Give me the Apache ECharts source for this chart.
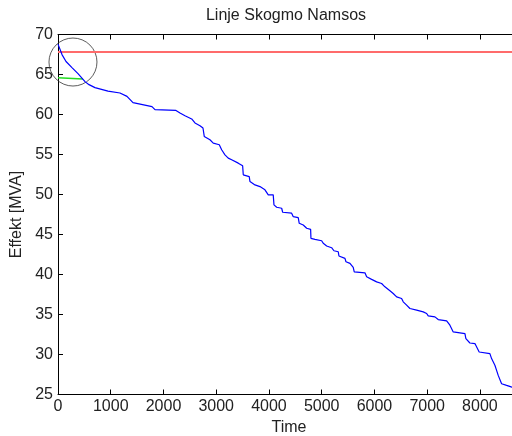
<!DOCTYPE html>
<html>
<head>
<meta charset="utf-8">
<script src="https://cdn.jsdelivr.net/npm/echarts@6/dist/echarts.min.js"></script>
<style>
html,body{margin:0;padding:0;background:#fff;}
#chart{width:512px;height:436px;}
</style>
</head>
<body>
<div id="chart"></div>
<script>
// Duration curve (hours sorted by load)
var hours = [0, 76, 152, 265, 379, 512, 588, 701, 948, 1175, 1308, 1422, 1782, 1839, 2237, 2313, 2408, 2535, 2597, 2692, 2749, 2773, 2881, 2944, 3058, 3103, 3166, 3228, 3293, 3418, 3501, 3513, 3626, 3640, 3735, 3829, 3924, 3987, 4081, 4095, 4146, 4241, 4260, 4430, 4461, 4555, 4574, 4650, 4715, 4790, 4796, 4872, 4999, 5029, 5094, 5188, 5232, 5314, 5327, 5441, 5460, 5536, 5598, 5617, 5820, 5852, 5947, 6042, 6136, 6199, 6294, 6356, 6421, 6515, 6546, 6610, 6673, 6800, 6925, 6990, 7020, 7147, 7209, 7369, 7431, 7494, 7716, 7734, 7810, 7905, 7986, 8189, 8221, 8284, 8316, 8347, 8411, 8506, 8606, 8760];
var effekt = [68.8, 67.49, 66.62, 65.86, 65.11, 64.11, 63.73, 63.36, 62.92, 62.69, 62.27, 61.48, 60.98, 60.6, 60.51, 60.19, 59.85, 59.44, 58.94, 58.6, 58.31, 57.26, 56.84, 56.43, 56.22, 55.59, 54.96, 54.55, 54.34, 53.92, 53.58, 52.46, 52.24, 51.62, 51.2, 50.99, 50.58, 49.95, 49.95, 48.7, 48.41, 48.28, 47.78, 47.66, 47.23, 47.11, 46.4, 46.19, 45.78, 45.65, 44.52, 44.4, 44.22, 43.9, 43.56, 43.35, 42.97, 42.84, 42.31, 42.02, 41.59, 41.39, 40.89, 40.34, 40.21, 39.71, 39.39, 39.08, 38.88, 38.46, 37.96, 37.63, 37.21, 37.0, 36.58, 36.17, 35.75, 35.54, 35.33, 35.13, 34.82, 34.7, 34.37, 34.2, 33.66, 32.82, 32.62, 31.99, 31.44, 31.37, 30.31, 30.11, 29.49, 28.65, 28.02, 27.39, 26.35, 26.14, 25.93, 25.8];

// Red limit line
var limitHours = [0, 8760];
var limitValue = 67.8;

// Green short line
var greenHours = [0, 470];
var greenValues = [64.6, 64.45];

// Highlight circle (center in data coordinates)
var circleCenter = [284, 66.56];

var xTicks = {min: 0, max: 8760, interval: 1000};
var yTicks = {min: 25, max: 70, interval: 5};

var blueData = hours.map(function (h, i) { return [h, effekt[i]]; });
var redData = limitHours.map(function (h) { return [h, limitValue]; });
var greenData = greenHours.map(function (h, i) { return [h, greenValues[i]]; });

var font = '"Liberation Sans", Arial, sans-serif';
var txtColor = '#222';
var plain = function (v) { return String(v); };

var chart = echarts.init(document.getElementById('chart'), null, {renderer: 'canvas'});
chart.setOption({
  animation: false,
  backgroundColor: '#fff',
  title: {
    text: 'Linje Skogmo Namsos',
    left: 286, top: 8, textAlign: 'center', padding: 0,
    textStyle: {fontFamily: font, fontSize: 16, fontWeight: 'normal', color: txtColor}
  },
  grid: {left: 58, top: 34.5, width: 462, height: 360, containLabel: false, outerBoundsMode: 'none'},
  xAxis: [{
    type: 'value', min: xTicks.min, max: xTicks.max, interval: xTicks.interval,
    name: 'Time', nameLocation: 'middle', nameGap: 25,
    nameTextStyle: {fontFamily: font, fontSize: 16, color: txtColor},
    axisLine: {show: true, onZero: false, lineStyle: {color: '#000', width: 1}},
    axisTick: {show: true, inside: true, length: 5, lineStyle: {color: '#000'}},
    axisLabel: {fontFamily: font, fontSize: 16, color: txtColor, margin: 4, showMaxLabel: false, formatter: plain},
    splitLine: {show: false}
  }, {
    type: 'value', position: 'top', min: xTicks.min, max: xTicks.max, interval: xTicks.interval,
    axisLine: {show: true, onZero: false, lineStyle: {color: '#000', width: 1}},
    axisTick: {show: true, inside: true, length: 5, lineStyle: {color: '#000'}},
    axisLabel: {show: false},
    splitLine: {show: false}
  }],
  yAxis: [{
    type: 'value', min: yTicks.min, max: yTicks.max, interval: yTicks.interval,
    name: 'Effekt [MVA]', nameLocation: 'middle', nameGap: 33, nameRotate: 90,
    nameTextStyle: {fontFamily: font, fontSize: 16, color: txtColor},
    axisLine: {show: true, onZero: false, lineStyle: {color: '#000', width: 1}},
    axisTick: {show: true, inside: true, length: 5, lineStyle: {color: '#000'}},
    axisLabel: {fontFamily: font, fontSize: 16, color: txtColor, margin: 5, formatter: plain},
    splitLine: {show: false}
  }, {
    type: 'value', position: 'right', min: yTicks.min, max: yTicks.max, interval: yTicks.interval,
    axisLine: {show: true, onZero: false, lineStyle: {color: '#000', width: 1}},
    axisTick: {show: true, inside: true, length: 5, lineStyle: {color: '#000'}},
    axisLabel: {show: false},
    splitLine: {show: false}
  }],
  series: [{
    type: 'line', data: redData, showSymbol: false, silent: true,
    lineStyle: {color: '#ff6b6b', width: 2}
  }, {
    type: 'line', data: greenData, showSymbol: false, silent: true,
    lineStyle: {color: '#22dd22', width: 1.5}
  }, {
    type: 'line', data: blueData, showSymbol: false, silent: true,
    lineStyle: {color: '#0000ff', width: 1.2}
  }, {
    type: 'scatter', data: [circleCenter], symbol: 'circle', symbolSize: 48, silent: true,
    itemStyle: {color: 'rgba(0,0,0,0)', borderColor: '#333', borderWidth: 1}
  }]
});
</script>
</body>
</html>
